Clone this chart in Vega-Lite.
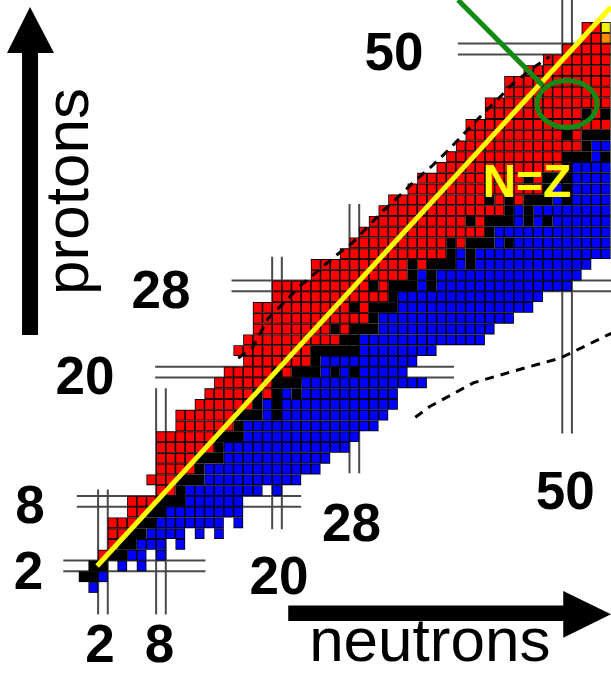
{
  "$schema": "https://vega.github.io/schema/vega-lite/v6.json",
  "width": 611,
  "height": 673,
  "padding": 0,
  "autosize": {"type": "none"},
  "background": "white",
  "config": {"view": {"stroke": null}},
  "datasets": {
    "runs": [
      {"z":0,"a":1,"b":1,"t":"b"},
      {"z":1,"a":0,"b":1,"t":"s"},{"z":1,"a":2,"b":2,"t":"b"},
      {"z":2,"a":1,"b":2,"t":"s"},{"z":2,"a":4,"b":4,"t":"b"},{"z":2,"a":6,"b":6,"t":"b"},
      {"z":3,"a":2,"b":2,"t":"r"},{"z":3,"a":3,"b":4,"t":"s"},{"z":3,"a":5,"b":6,"t":"b"},{"z":3,"a":8,"b":8,"t":"b"},
      {"z":4,"a":3,"b":3,"t":"r"},{"z":4,"a":4,"b":5,"t":"s"},{"z":4,"a":6,"b":8,"t":"b"},{"z":4,"a":10,"b":10,"t":"b"},
      {"z":5,"a":3,"b":4,"t":"r"},{"z":5,"a":5,"b":6,"t":"s"},{"z":5,"a":7,"b":10,"t":"b"},{"z":5,"a":12,"b":12,"t":"b"},{"z":5,"a":14,"b":14,"t":"b"},
      {"z":6,"a":3,"b":5,"t":"r"},{"z":6,"a":6,"b":7,"t":"s"},{"z":6,"a":8,"b":14,"t":"b"},{"z":6,"a":16,"b":16,"t":"b"},
      {"z":7,"a":5,"b":6,"t":"r"},{"z":7,"a":7,"b":8,"t":"s"},{"z":7,"a":9,"b":16,"t":"b"},
      {"z":8,"a":5,"b":7,"t":"r"},{"z":8,"a":8,"b":10,"t":"s"},{"z":8,"a":11,"b":16,"t":"b"},
      {"z":9,"a":8,"b":9,"t":"r"},{"z":9,"a":10,"b":10,"t":"s"},{"z":9,"a":11,"b":18,"t":"b"},{"z":9,"a":20,"b":20,"t":"b"},
      {"z":10,"a":7,"b":9,"t":"r"},{"z":10,"a":10,"b":12,"t":"s"},{"z":10,"a":13,"b":22,"t":"b"},
      {"z":11,"a":8,"b":11,"t":"r"},{"z":11,"a":12,"b":12,"t":"s"},{"z":11,"a":13,"b":24,"t":"b"},
      {"z":12,"a":8,"b":11,"t":"r"},{"z":12,"a":12,"b":14,"t":"s"},{"z":12,"a":15,"b":25,"t":"b"},
      {"z":13,"a":8,"b":13,"t":"r"},{"z":13,"a":14,"b":14,"t":"s"},{"z":13,"a":15,"b":27,"t":"b"},
      {"z":14,"a":8,"b":13,"t":"r"},{"z":14,"a":14,"b":16,"t":"s"},{"z":14,"a":17,"b":28,"t":"b"},
      {"z":15,"a":10,"b":15,"t":"r"},{"z":15,"a":16,"b":16,"t":"s"},{"z":15,"a":17,"b":30,"t":"b"},
      {"z":16,"a":10,"b":15,"t":"r"},{"z":16,"a":16,"b":18,"t":"s"},{"z":16,"a":19,"b":19,"t":"b"},{"z":16,"a":20,"b":20,"t":"s"},{"z":16,"a":21,"b":31,"t":"b"},
      {"z":17,"a":12,"b":17,"t":"r"},{"z":17,"a":18,"b":18,"t":"s"},{"z":17,"a":19,"b":19,"t":"b"},{"z":17,"a":20,"b":20,"t":"s"},{"z":17,"a":21,"b":32,"t":"b"},
      {"z":18,"a":13,"b":17,"t":"r"},{"z":18,"a":18,"b":18,"t":"s"},{"z":18,"a":19,"b":19,"t":"r"},{"z":18,"a":20,"b":20,"t":"s"},{"z":18,"a":21,"b":21,"t":"b"},{"z":18,"a":22,"b":22,"t":"s"},{"z":18,"a":23,"b":32,"t":"b"},
      {"z":19,"a":14,"b":19,"t":"r"},{"z":19,"a":20,"b":22,"t":"s"},{"z":19,"a":23,"b":35,"t":"b"},
      {"z":20,"a":15,"b":19,"t":"r"},{"z":20,"a":20,"b":20,"t":"s"},{"z":20,"a":21,"b":21,"t":"r"},{"z":20,"a":22,"b":24,"t":"s"},{"z":20,"a":25,"b":25,"t":"b"},{"z":20,"a":26,"b":26,"t":"s"},{"z":20,"a":27,"b":27,"t":"b"},{"z":20,"a":28,"b":28,"t":"s"},{"z":20,"a":29,"b":33,"t":"b"},
      {"z":21,"a":17,"b":23,"t":"r"},{"z":21,"a":24,"b":24,"t":"s"},{"z":21,"a":25,"b":34,"t":"b"},
      {"z":22,"a":16,"b":23,"t":"r"},{"z":22,"a":24,"b":28,"t":"s"},{"z":22,"a":29,"b":36,"t":"b"},
      {"z":23,"a":17,"b":26,"t":"r"},{"z":23,"a":27,"b":28,"t":"s"},{"z":23,"a":29,"b":41,"t":"b"},
      {"z":24,"a":18,"b":25,"t":"r"},{"z":24,"a":26,"b":26,"t":"s"},{"z":24,"a":27,"b":27,"t":"r"},{"z":24,"a":28,"b":30,"t":"s"},{"z":24,"a":31,"b":42,"t":"b"},
      {"z":25,"a":18,"b":29,"t":"r"},{"z":25,"a":30,"b":30,"t":"s"},{"z":25,"a":31,"b":44,"t":"b"},
      {"z":26,"a":18,"b":27,"t":"r"},{"z":26,"a":28,"b":28,"t":"s"},{"z":26,"a":29,"b":29,"t":"r"},{"z":26,"a":30,"b":32,"t":"s"},{"z":26,"a":33,"b":46,"t":"b"},
      {"z":27,"a":20,"b":31,"t":"r"},{"z":27,"a":32,"b":32,"t":"s"},{"z":27,"a":33,"b":47,"t":"b"},
      {"z":28,"a":20,"b":29,"t":"r"},{"z":28,"a":30,"b":30,"t":"s"},{"z":28,"a":31,"b":31,"t":"r"},{"z":28,"a":32,"b":34,"t":"s"},{"z":28,"a":35,"b":35,"t":"b"},{"z":28,"a":36,"b":36,"t":"s"},{"z":28,"a":37,"b":50,"t":"b"},
      {"z":29,"a":24,"b":33,"t":"r"},{"z":29,"a":34,"b":34,"t":"s"},{"z":29,"a":35,"b":35,"t":"b"},{"z":29,"a":36,"b":36,"t":"s"},{"z":29,"a":37,"b":51,"t":"b"},
      {"z":30,"a":24,"b":33,"t":"r"},{"z":30,"a":34,"b":34,"t":"s"},{"z":30,"a":35,"b":35,"t":"r"},{"z":30,"a":36,"b":38,"t":"s"},{"z":30,"a":39,"b":39,"t":"b"},{"z":30,"a":40,"b":40,"t":"s"},{"z":30,"a":41,"b":52,"t":"b"},
      {"z":31,"a":27,"b":37,"t":"r"},{"z":31,"a":38,"b":38,"t":"s"},{"z":31,"a":39,"b":39,"t":"b"},{"z":31,"a":40,"b":40,"t":"s"},{"z":31,"a":41,"b":54,"t":"b"},
      {"z":32,"a":28,"b":37,"t":"r"},{"z":32,"a":38,"b":38,"t":"s"},{"z":32,"a":39,"b":39,"t":"r"},{"z":32,"a":40,"b":42,"t":"s"},{"z":32,"a":43,"b":43,"t":"b"},{"z":32,"a":44,"b":44,"t":"s"},{"z":32,"a":45,"b":54,"t":"b"},
      {"z":33,"a":29,"b":41,"t":"r"},{"z":33,"a":42,"b":42,"t":"s"},{"z":33,"a":43,"b":54,"t":"b"},
      {"z":34,"a":30,"b":39,"t":"r"},{"z":34,"a":40,"b":40,"t":"s"},{"z":34,"a":41,"b":41,"t":"r"},{"z":34,"a":42,"b":44,"t":"s"},{"z":34,"a":45,"b":45,"t":"b"},{"z":34,"a":46,"b":46,"t":"s"},{"z":34,"a":47,"b":47,"t":"b"},{"z":34,"a":48,"b":48,"t":"s"},{"z":34,"a":49,"b":54,"t":"b"},
      {"z":35,"a":31,"b":43,"t":"r"},{"z":35,"a":44,"b":44,"t":"s"},{"z":35,"a":45,"b":45,"t":"b"},{"z":35,"a":46,"b":46,"t":"s"},{"z":35,"a":47,"b":54,"t":"b"},
      {"z":36,"a":32,"b":41,"t":"r"},{"z":36,"a":42,"b":42,"t":"s"},{"z":36,"a":43,"b":43,"t":"r"},{"z":36,"a":44,"b":44,"t":"s"},{"z":36,"a":45,"b":45,"t":"r"},{"z":36,"a":46,"b":48,"t":"s"},{"z":36,"a":49,"b":49,"t":"b"},{"z":36,"a":50,"b":50,"t":"s"},{"z":36,"a":51,"b":54,"t":"b"},
      {"z":37,"a":34,"b":47,"t":"r"},{"z":37,"a":48,"b":48,"t":"s"},{"z":37,"a":49,"b":49,"t":"b"},{"z":37,"a":50,"b":50,"t":"s"},{"z":37,"a":51,"b":54,"t":"b"},
      {"z":38,"a":35,"b":45,"t":"r"},{"z":38,"a":46,"b":46,"t":"s"},{"z":38,"a":47,"b":47,"t":"r"},{"z":38,"a":48,"b":50,"t":"s"},{"z":38,"a":51,"b":54,"t":"b"},
      {"z":39,"a":37,"b":49,"t":"r"},{"z":39,"a":50,"b":50,"t":"s"},{"z":39,"a":51,"b":54,"t":"b"},
      {"z":40,"a":38,"b":49,"t":"r"},{"z":40,"a":50,"b":52,"t":"s"},{"z":40,"a":53,"b":53,"t":"b"},{"z":40,"a":54,"b":54,"t":"s"},
      {"z":41,"a":39,"b":51,"t":"r"},{"z":41,"a":52,"b":52,"t":"s"},{"z":41,"a":53,"b":54,"t":"b"},
      {"z":42,"a":40,"b":49,"t":"r"},{"z":42,"a":50,"b":50,"t":"s"},{"z":42,"a":51,"b":51,"t":"r"},{"z":42,"a":52,"b":54,"t":"s"},
      {"z":43,"a":40,"b":54,"t":"r"},
      {"z":44,"a":42,"b":51,"t":"r"},{"z":44,"a":52,"b":52,"t":"s"},{"z":44,"a":53,"b":53,"t":"r"},{"z":44,"a":54,"b":54,"t":"s"},
      {"z":45,"a":42,"b":54,"t":"r"},
      {"z":46,"a":44,"b":54,"t":"r"},
      {"z":47,"a":44,"b":54,"t":"r"},
      {"z":48,"a":46,"b":54,"t":"r"},
      {"z":49,"a":48,"b":54,"t":"r"},
      {"z":50,"a":50,"b":54,"t":"r"},
      {"z":51,"a":52,"b":53,"t":"r"},{"z":51,"a":54,"b":54,"t":"o"},
      {"z":52,"a":52,"b":53,"t":"r"},{"z":52,"a":54,"b":54,"t":"y"}
    ],
    "magic": [
      {"x1":-2.1,"x2":12.6,"y1":1.5,"y2":1.5},{"x1":-2.1,"x2":12.6,"y1":2.5,"y2":2.5},
      {"x1":-0.7,"x2":22.5,"y1":7.5,"y2":7.5},{"x1":-0.7,"x2":22.5,"y1":8.5,"y2":8.5},
      {"x1":7.4,"x2":38.3,"y1":19.5,"y2":19.5},{"x1":7.4,"x2":38.3,"y1":20.5,"y2":20.5},
      {"x1":15.3,"x2":54.6,"y1":27.5,"y2":27.5},{"x1":15.3,"x2":54.6,"y1":28.5,"y2":28.5},
      {"x1":38.7,"x2":54.6,"y1":49.5,"y2":49.5},{"x1":38.7,"x2":54.6,"y1":50.5,"y2":50.5},
      {"x1":1.5,"x2":1.5,"y1":-2.5,"y2":9.1},{"x1":2.5,"x2":2.5,"y1":-2.5,"y2":9.1},
      {"x1":7.5,"x2":7.5,"y1":-2.5,"y2":18.5},{"x1":8.5,"x2":8.5,"y1":-2.5,"y2":18.5},
      {"x1":19.5,"x2":19.5,"y1":5.4,"y2":30.7},{"x1":20.5,"x2":20.5,"y1":5.4,"y2":30.7},
      {"x1":27.5,"x2":27.5,"y1":10.6,"y2":35.6},{"x1":28.5,"x2":28.5,"y1":10.6,"y2":35.6},
      {"x1":49.5,"x2":49.5,"y1":14.3,"y2":55},{"x1":50.5,"x2":50.5,"y1":14.3,"y2":55}
    ],
    "protonDrip": [
      {"n":16.0,"z":21.3},{"n":17.5,"z":22.3},{"n":19.1,"z":25.0},{"n":20.9,"z":26.6},
      {"n":22.4,"z":28.0},{"n":24.1,"z":29.3},{"n":26.2,"z":30.9},{"n":27.8,"z":32.0},
      {"n":29.4,"z":33.5},{"n":31.0,"z":35.0},{"n":32.7,"z":36.4},{"n":34.3,"z":37.8},
      {"n":36.1,"z":39.2},{"n":37.7,"z":40.6},{"n":39.4,"z":42.2},{"n":41.0,"z":43.7},
      {"n":42.8,"z":45.3},{"n":44.4,"z":46.8},{"n":46.4,"z":48.2},{"n":48.2,"z":49.3}
    ],
    "neutronDrip": [
      {"n":34.3,"z":15.8},{"n":35.8,"z":16.8},{"n":40.3,"z":19.0},{"n":44.9,"z":20.2},
      {"n":49.3,"z":21.3},{"n":54.1,"z":23.4},{"n":54.6,"z":23.6}
    ],
    "magicLabels": [
      {"n":32.1,"z":48.05,"t":"50"},{"n":8.0,"z":25.95,"t":"28"},{"n":0.15,"z":17.97,"t":"20"},
      {"n":-5.54,"z":5.99,"t":"8"},{"n":-5.7,"z":-0.14,"t":"2"},
      {"n":1.7,"z":-6.92,"t":"2"},{"n":7.85,"z":-6.92,"t":"8"},
      {"n":20.2,"z":-0.6,"t":"20"},{"n":27.7,"z":4.32,"t":"28"},{"n":49.8,"z":7.29,"t":"50"}
    ]
  },
  "layer": [
    {
      "data": {"name": "magic"},
      "mark": {"type": "rule", "color": "#4a4a4a", "strokeWidth": 2},
      "encoding": {
        "x": {"field": "x1", "type": "quantitative", "scale": {"domain": [-8.645, 54.54], "nice": false, "zero": false}, "axis": null},
        "x2": {"field": "x2"},
        "y": {"field": "y1", "type": "quantitative", "scale": {"domain": [-7.94, 54.55], "nice": false, "zero": false}, "axis": null},
        "y2": {"field": "y2"}
      }
    },
    {
      "data": {"name": "runs"},
      "mark": {"type": "rect", "color": "#000000", "xOffset": -4.835, "x2Offset": 4.835, "yOffset": -5.385, "y2Offset": 5.385},
      "encoding": {
        "x": {"field": "a", "type": "quantitative", "scale": {"domain": [-8.645, 54.54], "nice": false, "zero": false}, "axis": null},
        "x2": {"field": "b"},
        "y": {"field": "z", "type": "quantitative", "scale": {"domain": [-7.94, 54.55], "nice": false, "zero": false}, "axis": null},
        "y2": {"field": "z"}
      }
    },
    {
      "data": {"name": "runs"},
      "transform": [{"filter": "datum.t != 's'"}],
      "mark": {"type": "rule", "strokeWidth": 9.0, "strokeCap": "butt", "strokeDash": [8.1, 1.57], "strokeDashOffset": 8.885, "xOffset": -4.835, "x2Offset": 4.835},
      "encoding": {
        "x": {"field": "a", "type": "quantitative", "scale": {"domain": [-8.645, 54.54], "nice": false, "zero": false}, "axis": null},
        "x2": {"field": "b"},
        "y": {"field": "z", "type": "quantitative", "scale": {"domain": [-7.94, 54.55], "nice": false, "zero": false}, "axis": null},
        "color": {"field": "t", "type": "nominal", "scale": {"domain": ["r", "b", "y", "o"], "range": ["#ff0000", "#0000ff", "#f2f200", "#ff8c00"]}, "legend": null}
      }
    },
    {
      "data": {"name": "protonDrip"},
      "mark": {"type": "line", "color": "#000000", "strokeWidth": 3, "strokeDash": [9, 7]},
      "encoding": {
        "x": {"field": "n", "type": "quantitative", "scale": {"domain": [-8.645, 54.54], "nice": false, "zero": false}, "axis": null},
        "y": {"field": "z", "type": "quantitative", "scale": {"domain": [-7.94, 54.55], "nice": false, "zero": false}, "axis": null}
      }
    },
    {
      "data": {"name": "neutronDrip"},
      "mark": {"type": "line", "color": "#000000", "strokeWidth": 3, "strokeDash": [9, 7]},
      "encoding": {
        "x": {"field": "n", "type": "quantitative", "scale": {"domain": [-8.645, 54.54], "nice": false, "zero": false}, "axis": null},
        "y": {"field": "z", "type": "quantitative", "scale": {"domain": [-7.94, 54.55], "nice": false, "zero": false}, "axis": null}
      }
    },
    {
      "data": {"values": [{"n": 1.4, "z": 2.0}, {"n": 54.54, "z": 53.9}]},
      "mark": {"type": "line", "color": "#ffff00", "strokeWidth": 5},
      "encoding": {
        "x": {"field": "n", "type": "quantitative", "scale": {"domain": [-8.645, 54.54], "nice": false, "zero": false}, "axis": null},
        "y": {"field": "z", "type": "quantitative", "scale": {"domain": [-7.94, 54.55], "nice": false, "zero": false}, "axis": null}
      }
    },
    {
      "data": {"values": [{"n": 38.72, "z": 54.55}, {"n": 47.5, "z": 46.6}]},
      "mark": {"type": "line", "color": "#138a13", "strokeWidth": 5},
      "encoding": {
        "x": {"field": "n", "type": "quantitative", "scale": {"domain": [-8.645, 54.54], "nice": false, "zero": false}, "axis": null},
        "y": {"field": "z", "type": "quantitative", "scale": {"domain": [-7.94, 54.55], "nice": false, "zero": false}, "axis": null}
      }
    },
    {
      "data": {"values": [{"n": 49.99, "z": 44.9}]},
      "mark": {"type": "point", "filled": false, "stroke": "#138a13", "strokeWidth": 5, "opacity": 1, "size": 3600,
        "shape": "M 1 0 C 1 0.4291 0.5523 0.777 0 0.777 C -0.5523 0.777 -1 0.4291 -1 0 C -1 -0.4291 -0.5523 -0.777 0 -0.777 C 0.5523 -0.777 1 -0.4291 1 0 Z"},
      "encoding": {
        "x": {"field": "n", "type": "quantitative", "scale": {"domain": [-8.645, 54.54], "nice": false, "zero": false}, "axis": null},
        "y": {"field": "z", "type": "quantitative", "scale": {"domain": [-7.94, 54.55], "nice": false, "zero": false}, "axis": null}
      }
    },
    {
      "data": {"values": [{"n": 45.85, "z": 36.25, "t": "N=Z"}]},
      "mark": {"type": "text", "font": "Liberation Sans", "fontWeight": "bold", "fontSize": 46, "color": "#ffff00", "align": "center", "baseline": "alphabetic"},
      "encoding": {
        "x": {"field": "n", "type": "quantitative", "scale": {"domain": [-8.645, 54.54], "nice": false, "zero": false}, "axis": null},
        "y": {"field": "z", "type": "quantitative", "scale": {"domain": [-7.94, 54.55], "nice": false, "zero": false}, "axis": null},
        "text": {"field": "t"}
      }
    },
    {
      "data": {"name": "magicLabels"},
      "mark": {"type": "text", "font": "Liberation Sans", "fontWeight": "bold", "fontSize": 53, "color": "#000000", "align": "center", "baseline": "alphabetic"},
      "encoding": {
        "x": {"field": "n", "type": "quantitative", "scale": {"domain": [-8.645, 54.54], "nice": false, "zero": false}, "axis": null},
        "y": {"field": "z", "type": "quantitative", "scale": {"domain": [-7.94, 54.55], "nice": false, "zero": false}, "axis": null},
        "text": {"field": "t"}
      }
    },
    {
      "data": {"values": [{"n": 0.455, "z": 36.77, "t": "protons"}]},
      "mark": {"type": "text", "font": "Liberation Sans", "fontSize": 62, "angle": 270, "color": "#000000", "align": "center", "baseline": "alphabetic"},
      "encoding": {
        "x": {"field": "n", "type": "quantitative", "scale": {"domain": [-8.645, 54.54], "nice": false, "zero": false}, "axis": null},
        "y": {"field": "z", "type": "quantitative", "scale": {"domain": [-7.94, 54.55], "nice": false, "zero": false}, "axis": null},
        "text": {"field": "t"}
      }
    },
    {
      "data": {"values": [{"n": 35.8, "z": -6.83, "t": "neutrons"}]},
      "mark": {"type": "text", "font": "Liberation Sans", "fontSize": 62, "color": "#000000", "align": "center", "baseline": "alphabetic"},
      "encoding": {
        "x": {"field": "n", "type": "quantitative", "scale": {"domain": [-8.645, 54.54], "nice": false, "zero": false}, "axis": null},
        "y": {"field": "z", "type": "quantitative", "scale": {"domain": [-7.94, 54.55], "nice": false, "zero": false}, "axis": null},
        "text": {"field": "t"}
      }
    },
    {
      "data": {"values": [
        {"x1": -5.54, "x2": -5.54, "y1": 23.45, "y2": 49.8}
      ]},
      "mark": {"type": "rule", "color": "#000000", "strokeWidth": 16, "strokeCap": "butt"},
      "encoding": {
        "x": {"field": "x1", "type": "quantitative", "scale": {"domain": [-8.645, 54.54], "nice": false, "zero": false}, "axis": null},
        "x2": {"field": "x2"},
        "y": {"field": "y1", "type": "quantitative", "scale": {"domain": [-7.94, 54.55], "nice": false, "zero": false}, "axis": null},
        "y2": {"field": "y2"}
      }
    },
    {
      "data": {"values": [
        {"x1": 21.16, "x2": 49.8, "y1": -2.39, "y2": -2.39}
      ]},
      "mark": {"type": "rule", "color": "#000000", "strokeWidth": 15.7, "strokeCap": "butt"},
      "encoding": {
        "x": {"field": "x1", "type": "quantitative", "scale": {"domain": [-8.645, 54.54], "nice": false, "zero": false}, "axis": null},
        "x2": {"field": "x2"},
        "y": {"field": "y1", "type": "quantitative", "scale": {"domain": [-7.94, 54.55], "nice": false, "zero": false}, "axis": null},
        "y2": {"field": "y2"}
      }
    },
    {
      "data": {"values": [{"n": -7.92, "z": 49.63}, {"n": -5.54, "z": 53.91}, {"n": -3.06, "z": 49.63}]},
      "mark": {"type": "area", "orient": "vertical", "color": "#000000", "opacity": 1},
      "encoding": {
        "x": {"field": "n", "type": "quantitative", "scale": {"domain": [-8.645, 54.54], "nice": false, "zero": false}, "axis": null},
        "y": {"field": "z", "type": "quantitative", "scale": {"domain": [-7.94, 54.55], "nice": false, "zero": false}, "axis": null},
        "y2": {"datum": 49.63}
      }
    },
    {
      "data": {"values": [{"n": 49.6, "z": -0.325}, {"n": 54.54, "z": -2.49}, {"n": 49.6, "z": -4.66}]},
      "mark": {"type": "area", "orient": "horizontal", "color": "#000000", "opacity": 1},
      "encoding": {
        "x": {"field": "n", "type": "quantitative", "scale": {"domain": [-8.645, 54.54], "nice": false, "zero": false}, "axis": null},
        "x2": {"datum": 49.6},
        "y": {"field": "z", "type": "quantitative", "scale": {"domain": [-7.94, 54.55], "nice": false, "zero": false}, "axis": null}
      }
    }
  ]
}
